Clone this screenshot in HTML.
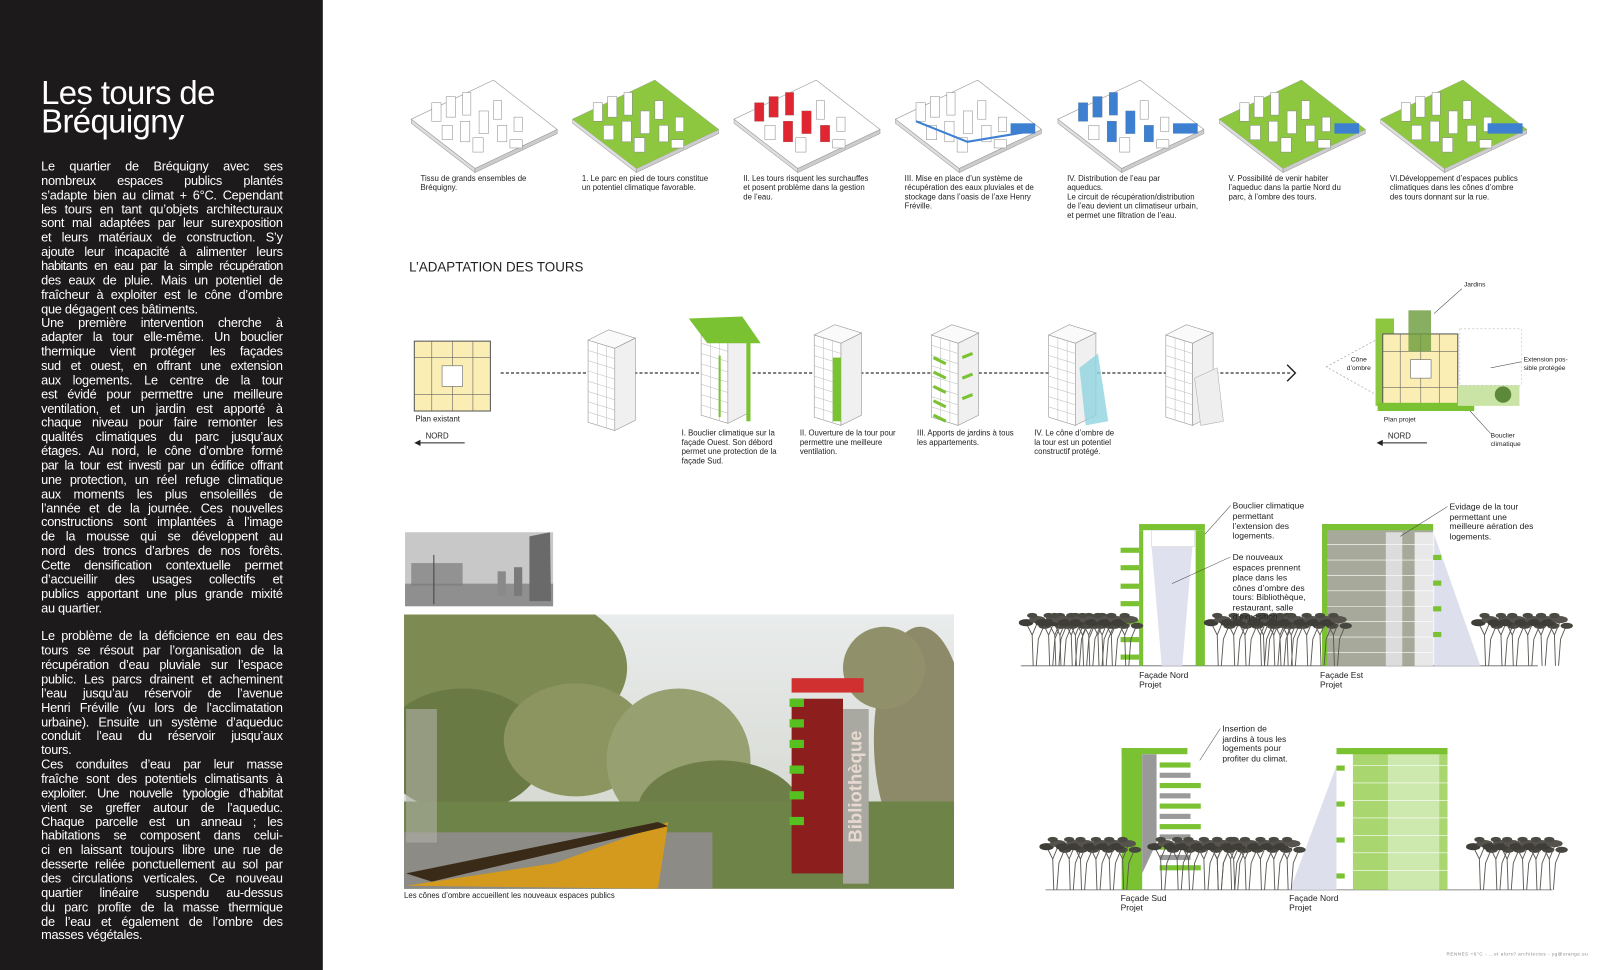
<!DOCTYPE html>
<html><head><meta charset="utf-8">
<style>
html,body{margin:0;padding:0;background:#fff;overflow:hidden}
#stage{position:absolute;left:0;top:0;width:1568px;height:944px;transform-origin:0 0;transform:scale(1.02806,1.02754);font-family:"Liberation Sans",Arial,sans-serif}
#side{position:absolute;left:0;top:0;width:314px;height:944px;background:#1c1a1b}
#title{position:absolute;left:40px;top:76px;color:#fff;font-size:32px;line-height:28px;letter-spacing:-0.6px}
#body{position:absolute;left:40px;top:156px;width:235px;color:#fff;font-size:12.4px;line-height:13.87px;letter-spacing:-0.25px}
#body div{text-align:justify;text-align-last:justify;white-space:nowrap;height:13.87px}
#body div.l{text-align-last:left}
svg{position:absolute;left:0;top:0}
.c{font-size:7.6px;fill:#222}
.s{font-size:8.3px;fill:#222}
</style></head><body>
<div id="stage">
<div id="side">
<div id="title">Les tours de<br>Bréquigny</div>
<div id="body">
<div>Le quartier de Bréquigny avec ses</div>
<div>nombreux espaces publics plantés</div>
<div>s’adapte bien au climat + 6°C. Cependant</div>
<div>les tours en tant qu’objets architecturaux</div>
<div>sont mal adaptées par leur surexposition</div>
<div>et leurs matériaux de construction. S’y</div>
<div>ajoute leur incapacité à alimenter leurs</div>
<div style="letter-spacing:-0.6px">habitants en eau par la simple récupération</div>
<div>des eaux de pluie. Mais un potentiel de</div>
<div>fraîcheur à exploiter est le cône d’ombre</div>
<div class="l">que dégagent ces bâtiments.</div>
<div>Une première intervention cherche à</div>
<div>adapter la tour elle-même. Un bouclier</div>
<div>thermique vient protéger les façades</div>
<div>sud et ouest, en offrant une extension</div>
<div>aux logements. Le centre de la tour</div>
<div>est évidé pour permettre une meilleure</div>
<div>ventilation, et un jardin est apporté à</div>
<div>chaque niveau pour faire remonter les</div>
<div>qualités climatiques du parc jusqu’aux</div>
<div>étages. Au nord, le cône d’ombre formé</div>
<div style="letter-spacing:-0.5px">par la tour est investi par un édifice offrant</div>
<div>une protection, un réel refuge climatique</div>
<div>aux moments les plus ensoleillés de</div>
<div>l’année et de la journée. Ces nouvelles</div>
<div>constructions sont implantées à l’image</div>
<div>de la mousse qui se développent au</div>
<div>nord des troncs d’arbres de nos forêts.</div>
<div>Cette densification contextuelle permet</div>
<div>d’accueillir des usages collectifs et</div>
<div>publics apportant une plus grande mixité</div>
<div class="l">au quartier.</div>
<div class="l"></div>
<div>Le problème de la déficience en eau des</div>
<div>tours se résout par l’organisation de la</div>
<div>récupération d’eau pluviale sur l’espace</div>
<div>public. Les parcs drainent et acheminent</div>
<div>l’eau jusqu’au réservoir de l’avenue</div>
<div>Henri Fréville (vu lors de l’acclimatation</div>
<div>urbaine). Ensuite un système d’aqueduc</div>
<div>conduit l’eau du réservoir jusqu’aux</div>
<div class="l">tours.</div>
<div>Ces conduites d’eau par leur masse</div>
<div>fraîche sont des potentiels climatisants à</div>
<div style="letter-spacing:-0.5px">exploiter. Une nouvelle typologie d’habitat</div>
<div>vient se greffer autour de l’aqueduc.</div>
<div>Chaque parcelle est un anneau ; les</div>
<div>habitations se composent dans celui-</div>
<div>ci en laissant toujours libre une rue de</div>
<div>desserte reliée ponctuellement au sol par</div>
<div>des circulations verticales. Ce nouveau</div>
<div>quartier linéaire suspendu au-dessus</div>
<div>du parc profite de la masse thermique</div>
<div>de l’eau et également de l’ombre des</div>
<div class="l">masses végétales.</div>
</div>
</div>

<svg width="1568" height="944" viewBox="0 0 1568 944">
<defs>
<clipPath id="rc"><rect x="393" y="598" width="535" height="267"/></clipPath>
<g id="slab">
<polygon points="0,38 80,0 142,48 62,86" fill="#fff" stroke="#999" stroke-width="0.6"/>
<polygon points="0,38 62,86 62,90 0,42" fill="#ddd" stroke="#999" stroke-width="0.5"/>
<polygon points="62,86 142,48 142,52 62,90" fill="#ccc" stroke="#999" stroke-width="0.5"/>
</g>
<g id="blds" fill="#fff" stroke="#888" stroke-width="0.5">
<rect x="20" y="22" width="9" height="18"/><rect x="34" y="16" width="9" height="20"/><rect x="50" y="12" width="8" height="22"/>
<rect x="30" y="44" width="10" height="14"/><rect x="48" y="40" width="9" height="20"/><rect x="66" y="30" width="9" height="22"/>
<rect x="80" y="20" width="8" height="18"/><rect x="60" y="56" width="10" height="14"/><rect x="84" y="44" width="9" height="16"/>
<rect x="100" y="36" width="8" height="14"/><rect x="96" y="58" width="12" height="8"/>
</g>
<g id="tree">
<g stroke="#5a5852" stroke-width="0.9" fill="none">
<path d="M0,0 L-1,-30 L-6,-40"/><path d="M-1,-30 L4,-42"/><path d="M3,0 L5,-26 L10,-38"/>
</g>
<ellipse cx="-7" cy="-42" rx="7" ry="3.5" fill="#3e3d38"/>
<ellipse cx="4" cy="-45" rx="8" ry="3.5" fill="#55534c"/>
<ellipse cx="11" cy="-39" rx="6" ry="3" fill="#47463f"/>
<ellipse cx="-1" cy="-49" rx="5" ry="2.5" fill="#4a4942"/>
</g>
<g id="trees">
<use href="#tree" x="0"/><use href="#tree" x="16"/><use href="#tree" x="27" transform="translate(0,0)"/><use href="#tree" x="42"/><use href="#tree" x="55"/><use href="#tree" x="68"/>
</g>
<g id="tower">
<polygon points="0,8 26,16 26,96 0,88" fill="#fff" stroke="#999" stroke-width="0.6"/>
<polygon points="26,16 46,6 46,86 26,96" fill="#f0f0f0" stroke="#999" stroke-width="0.6"/>
<polygon points="0,8 20,-2 46,6 26,16" fill="#fafafa" stroke="#999" stroke-width="0.6"/>
<g stroke="#bbb" stroke-width="0.5">
<line x1="0" y1="18" x2="26" y2="26"/><line x1="0" y1="28" x2="26" y2="36"/><line x1="0" y1="38" x2="26" y2="46"/><line x1="0" y1="48" x2="26" y2="56"/><line x1="0" y1="58" x2="26" y2="66"/><line x1="0" y1="68" x2="26" y2="76"/><line x1="0" y1="78" x2="26" y2="86"/>
<line x1="9" y1="11" x2="9" y2="91"/><line x1="18" y1="14" x2="18" y2="93"/>
</g>
</g>
<linearGradient id="sky" x1="0" y1="0" x2="0" y2="1"><stop offset="0" stop-color="#e9ecec"/><stop offset="1" stop-color="#cfd2c8"/></linearGradient>
</defs>

<!-- top iso row -->
<g transform="translate(400,78)"><use href="#slab"/><use href="#blds"/></g>
<g transform="translate(557,78)"><use href="#slab"/><polygon points="0,38 80,0 142,48 62,86" fill="#8dc63f"/><use href="#blds"/></g>
<g transform="translate(714,78)"><use href="#slab"/><use href="#blds"/>
<g fill="#e02630"><rect x="34" y="16" width="9" height="20"/><rect x="50" y="12" width="8" height="22"/><rect x="48" y="40" width="9" height="20"/><rect x="66" y="30" width="9" height="22"/><rect x="84" y="44" width="9" height="16"/><rect x="20" y="22" width="9" height="18"/></g></g>
<g transform="translate(871,78)"><use href="#slab"/><use href="#blds"/><polyline points="20,40 70,60 130,50" fill="none" stroke="#3d7fd0" stroke-width="2"/><rect x="112" y="42" width="24" height="10" fill="#3d7fd0"/></g>
<g transform="translate(1029,78)"><use href="#slab"/><use href="#blds"/>
<g fill="#3d7fd0"><rect x="34" y="16" width="9" height="20"/><rect x="50" y="12" width="8" height="22"/><rect x="48" y="40" width="9" height="20"/><rect x="66" y="30" width="9" height="22"/><rect x="84" y="44" width="9" height="16"/><rect x="20" y="22" width="9" height="18"/><rect x="112" y="42" width="24" height="10"/></g></g>
<g transform="translate(1186,78)"><use href="#slab"/><polygon points="0,38 80,0 142,48 62,86" fill="#8dc63f"/><use href="#blds"/><rect x="112" y="42" width="24" height="10" fill="#3d7fd0"/></g>
<g transform="translate(1343,78)"><use href="#slab"/><polygon points="0,38 80,0 142,48 62,86" fill="#8dc63f"/><use href="#blds"/><rect x="104" y="42" width="34" height="10" fill="#3d7fd0"/></g>

<g class="c">
<text x="409" y="176">Tissu de grands ensembles de</text><text x="409" y="185">Bréquigny.</text>
<text x="566" y="176">1. Le parc en pied de tours constitue</text><text x="566" y="185">un potentiel climatique favorable.</text>
<text x="723" y="176">II. Les tours risquent les surchauffes</text><text x="723" y="185">et posent problème dans la gestion</text><text x="723" y="194">de l’eau.</text>
<text x="880" y="176">III. Mise en place d’un système de</text><text x="880" y="185">récupération des eaux pluviales et de</text><text x="880" y="194">stockage dans l’oasis de l’axe Henry</text><text x="880" y="203">Fréville.</text>
<text x="1038" y="176">IV.  Distribution  de  l’eau  par</text><text x="1038" y="185">aqueducs.</text><text x="1038" y="194">Le circuit de récupération/distribution</text><text x="1038" y="203">de l’eau devient un climatiseur urbain,</text><text x="1038" y="212">et permet une filtration de l’eau.</text>
<text x="1195" y="176">V.  Possibilité  de  venir  habiter</text><text x="1195" y="185">l’aqueduc dans la partie Nord du</text><text x="1195" y="194">parc, à l’ombre des tours.</text>
<text x="1352" y="176">VI.Développement d’espaces publics</text><text x="1352" y="185">climatiques dans les cônes d’ombre</text><text x="1352" y="194">des tours donnant sur la rue.</text>
</g>

<text x="398" y="264" font-size="13" fill="#222">L’ADAPTATION DES  TOURS</text>

<!-- row 2 -->
<line x1="487" y1="363" x2="1255" y2="363" stroke="#333" stroke-width="1.2" stroke-dasharray="3,2"/>
<polyline points="1252,355 1260,363 1252,371" fill="none" stroke="#222" stroke-width="1.4"/>
<g>
<rect x="403" y="332" width="74" height="68" fill="#fbeeb5" stroke="#555" stroke-width="1"/>
<g stroke="#666" stroke-width="0.6" fill="none">
<line x1="403" y1="348" x2="477" y2="348"/><line x1="403" y1="384" x2="477" y2="384"/>
<line x1="420" y1="332" x2="420" y2="400"/><line x1="440" y1="332" x2="440" y2="400"/><line x1="460" y1="332" x2="460" y2="400"/>
<rect x="430" y="356" width="20" height="20" fill="#fff"/>
</g>
</g>
<text x="404" y="410" class="c">Plan existant</text>
<line x1="405" y1="431" x2="452" y2="431" stroke="#222" stroke-width="1"/><polygon points="403,431 409,428 409,434" fill="#222"/>
<text x="414" y="427" class="c">NORD</text>

<g transform="translate(572,323)"><use href="#tower"/></g>
<g transform="translate(682,316)"><use href="#tower"/><polygon points="-12,-6 40,-8 58,18 6,18" fill="#7ac231"/><rect x="44" y="14" width="4" height="80" fill="#7ac231"/><g stroke="#7ac231" stroke-width="2"><line x1="18" y1="30" x2="18" y2="90"/></g></g>
<g transform="translate(792,318)"><use href="#tower"/><rect x="18" y="30" width="8" height="62" fill="#7ac231"/></g>
<g transform="translate(906,318)"><use href="#tower"/><g stroke="#7ac231" stroke-width="3"><line x1="2" y1="30" x2="14" y2="36"/><line x1="2" y1="44" x2="14" y2="50"/><line x1="2" y1="58" x2="14" y2="64"/><line x1="2" y1="72" x2="14" y2="78"/><line x1="2" y1="86" x2="14" y2="92"/><line x1="30" y1="30" x2="40" y2="26"/><line x1="30" y1="50" x2="40" y2="46"/><line x1="30" y1="70" x2="40" y2="66"/></g></g>
<g transform="translate(1020,318)"><use href="#tower"/><polygon points="30,40 48,26 58,92 36,96" fill="#8fd3e0" opacity="0.8"/></g>
<g transform="translate(1134,318)"><use href="#tower"/><polygon points="28,50 50,40 56,92 34,96" fill="#eee" stroke="#aaa" stroke-width="0.5"/></g>

<g class="c">
<text x="663" y="424">I. Bouclier climatique sur la</text><text x="663" y="433">façade Ouest. Son débord</text><text x="663" y="442">permet une protection de la</text><text x="663" y="451">façade Sud.</text>
<text x="778" y="424">II. Ouverture de la tour pour</text><text x="778" y="433">permettre une meilleure</text><text x="778" y="442">ventilation.</text>
<text x="892" y="424">III. Apports de jardins à tous</text><text x="892" y="433">les appartements.</text>
<text x="1006" y="424">IV. Le cône d’ombre de</text><text x="1006" y="433">la tour est un potentiel</text><text x="1006" y="442">constructif protégé.</text>
</g>

<g>
<polygon points="1290,357 1340,330 1340,385" fill="#fff" stroke="#999" stroke-width="0.6" stroke-dasharray="2,2"/>
<rect x="1338" y="310" width="18" height="85" fill="#8dc63f"/>
<rect x="1345" y="325" width="73" height="68" fill="#fbeeb5" stroke="#555" stroke-width="1"/>
<g stroke="#666" stroke-width="0.6" fill="none"><line x1="1345" y1="342" x2="1418" y2="342"/><line x1="1345" y1="377" x2="1418" y2="377"/><line x1="1362" y1="325" x2="1362" y2="393"/><line x1="1382" y1="325" x2="1382" y2="393"/><line x1="1400" y1="325" x2="1400" y2="393"/><rect x="1372" y="350" width="20" height="18" fill="#fff"/></g>
<rect x="1370" y="302" width="22" height="40" fill="#6a9b3a" opacity="0.8"/>
<rect x="1340" y="392" width="94" height="8" fill="#7ac231"/>
<rect x="1418" y="375" width="60" height="20" fill="#c9e4a4"/>
<circle cx="1462" cy="384" r="8" fill="#5d8a3a"/>
<rect x="1420" y="320" width="60" height="55" fill="none" stroke="#bbb" stroke-width="0.5" stroke-dasharray="2,2"/>
</g>
<g class="c">
<text x="1424" y="279" style="font-size:6.5px">Jardins</text>
<text x="1314" y="352" style="font-size:6.5px">Cône</text><text x="1310" y="360" style="font-size:6.5px">d’ombre</text>
<text x="1482" y="352" style="font-size:6.5px">Extension pos-</text><text x="1482" y="360" style="font-size:6.5px">sible protégée</text>
<text x="1450" y="426" style="font-size:6.5px">Bouclier</text><text x="1450" y="434" style="font-size:6.5px">climatique</text>
<text x="1346" y="410" style="font-size:6.5px">Plan projet</text>
</g>
<g stroke="#333" stroke-width="0.5"><line x1="1422" y1="281" x2="1395" y2="305"/><line x1="1480" y1="352" x2="1450" y2="358"/><line x1="1450" y1="422" x2="1430" y2="400"/></g>
<line x1="1341" y1="431" x2="1388" y2="431" stroke="#222" stroke-width="1"/><polygon points="1339,431 1345,428 1345,434" fill="#222"/>
<text x="1350" y="427" class="c">NORD</text>

<!-- small photo -->
<rect x="394" y="518" width="144" height="72" fill="#c8c8c8"/>
<rect x="394" y="568" width="144" height="22" fill="#8f8f8f"/>
<rect x="400" y="548" width="50" height="22" fill="#7a7a7a" opacity="0.7"/>
<polygon points="515,522 535,518 536,585 515,585" fill="#6a6a6a"/>
<rect x="484" y="556" width="8" height="24" fill="#8a8a8a"/><rect x="500" y="552" width="8" height="28" fill="#7a7a7a"/>
<line x1="422" y1="540" x2="422" y2="588" stroke="#444"/>

<!-- big render -->
<g clip-path="url(#rc)">
<rect x="393" y="598" width="535" height="267" fill="url(#sky)"/>
<ellipse cx="480" cy="650" rx="130" ry="80" fill="#7d8a52"/>
<ellipse cx="450" cy="730" rx="80" ry="60" fill="#6a7a45"/>
<ellipse cx="560" cy="720" rx="70" ry="55" fill="#8c9560"/>
<ellipse cx="660" cy="740" rx="70" ry="70" fill="#97a070"/>
<ellipse cx="700" cy="790" rx="80" ry="50" fill="#6e7e48"/>
<ellipse cx="895" cy="720" rx="45" ry="110" fill="#8c8a68"/>
<ellipse cx="860" cy="650" rx="40" ry="40" fill="#90906a"/>
<rect x="393" y="780" width="535" height="85" fill="#6e8348"/>
<rect x="393" y="810" width="300" height="55" fill="#8c8b86"/>
<polygon points="395,862 540,840 650,800 640,865" fill="#d39a1e"/>
<polygon points="395,850 640,800 650,804 420,858" fill="#3a2a18"/>
<rect x="770" y="680" width="50" height="170" fill="#8c1e1e"/>
<rect x="770" y="660" width="70" height="14" fill="#d0302f"/>
<rect x="820" y="690" width="25" height="170" fill="#a9a9a2"/>
<g fill="#55c020"><rect x="768" y="680" width="14" height="8"/><rect x="768" y="700" width="14" height="8"/><rect x="768" y="720" width="14" height="8"/><rect x="768" y="745" width="14" height="8"/><rect x="768" y="770" width="14" height="8"/><rect x="768" y="795" width="14" height="8"/></g>
<text transform="translate(838,820) rotate(-90)" font-size="18" fill="#e8d9d0" font-weight="bold">Bibliothèque</text>
<rect x="395" y="690" width="30" height="130" fill="#b0b0a8" opacity="0.6"/>
</g>
<text x="393" y="874" class="c">Les cônes d’ombre accueillent les nouveaux espaces publics</text>

<!-- elevation top -->
<line x1="993" y1="648" x2="1496" y2="648" stroke="#666" stroke-width="0.8"/>
<polygon points="1120,530 1160,530 1150,648 1130,648" fill="#dfe1ee"/>
<rect x="1108" y="510" width="64" height="6" fill="#7ac231"/>
<rect x="1120" y="516" width="42" height="16" fill="#fff" stroke="#ccc" stroke-width="0.5"/>
<rect x="1163" y="516" width="9" height="132" fill="#7ac231"/>
<g fill="#7ac231"><rect x="1090" y="533" width="18" height="5"/><rect x="1090" y="550" width="18" height="5"/><rect x="1090" y="568" width="18" height="5"/><rect x="1090" y="585" width="18" height="5"/><rect x="1090" y="603" width="18" height="5"/><rect x="1090" y="620" width="18" height="5"/><rect x="1090" y="637" width="18" height="5"/></g>
<rect x="1108" y="516" width="4" height="132" fill="#7ac231"/>
<polygon points="1395,520 1440,648 1395,648" fill="#dde0ec"/>
<rect x="1286" y="510" width="108" height="138" fill="#a7aa9a"/>
<rect x="1286" y="510" width="108" height="6" fill="#7ac231"/>
<rect x="1348" y="518" width="16" height="130" fill="#dcdcdc"/>
<rect x="1376" y="518" width="18" height="130" fill="#e8e8e8"/>
<rect x="1286" y="516" width="5" height="132" fill="#7ac231"/>
<g stroke="#fff" stroke-width="0.6"><line x1="1291" y1="530" x2="1394" y2="530"/><line x1="1291" y1="545" x2="1394" y2="545"/><line x1="1291" y1="560" x2="1394" y2="560"/><line x1="1291" y1="575" x2="1394" y2="575"/><line x1="1291" y1="590" x2="1394" y2="590"/><line x1="1291" y1="605" x2="1394" y2="605"/><line x1="1291" y1="620" x2="1394" y2="620"/><line x1="1291" y1="635" x2="1394" y2="635"/></g>
<g fill="#7ac231"><rect x="1394" y="540" width="8" height="5"/><rect x="1394" y="565" width="8" height="5"/><rect x="1394" y="590" width="8" height="5"/><rect x="1394" y="615" width="8" height="5"/></g>
<g transform="translate(1005,648)"><use href="#trees"/><use href="#trees" x="22"/></g>
<g transform="translate(1185,648)"><use href="#trees"/><use href="#trees" x="45"/></g>
<g transform="translate(1445,648)"><use href="#trees"/></g>
<g class="s">
<text x="1108" y="660">Façade Nord</text><text x="1108" y="669">Projet</text>
<text x="1284" y="660">Façade Est</text><text x="1284" y="669">Projet</text>
<text x="1199" y="495">Bouclier climatique</text><text x="1199" y="505">permettant</text><text x="1199" y="515">l’extension des</text><text x="1199" y="524">logements.</text>
<text x="1199" y="545">De nouveaux</text><text x="1199" y="555">espaces prennent</text><text x="1199" y="565">place dans les</text><text x="1199" y="575">cônes d’ombre des</text><text x="1199" y="584">tours: Bibliothèque,</text><text x="1199" y="594">restaurant, salle</text><text x="1199" y="603">d’exposition...</text>
<text x="1410" y="496">Evidage de la tour</text><text x="1410" y="506">permettant une</text><text x="1410" y="515">meilleure aération des</text><text x="1410" y="525">logements.</text>
</g>
<g stroke="#444" stroke-width="0.5"><line x1="1197" y1="492" x2="1172" y2="520"/><line x1="1197" y1="542" x2="1140" y2="568"/><line x1="1408" y1="493" x2="1362" y2="522"/></g>

<!-- elevation bottom -->
<line x1="1017" y1="866" x2="1510" y2="866" stroke="#666" stroke-width="0.8"/>
<rect x="1091" y="728" width="20" height="138" fill="#7ac231"/>
<rect x="1091" y="728" width="64" height="6" fill="#7ac231"/>
<polygon points="1111,734 1125,734 1125,820 1111,850" fill="#999"/>
<g fill="#7ac231"><rect x="1128" y="742" width="30" height="5"/><rect x="1128" y="762" width="40" height="5"/><rect x="1128" y="782" width="40" height="5"/><rect x="1128" y="802" width="40" height="5"/><rect x="1128" y="822" width="40" height="5"/><rect x="1128" y="842" width="40" height="5"/></g>
<g fill="#9a9a9a"><rect x="1128" y="752" width="30" height="5"/><rect x="1128" y="772" width="30" height="5"/><rect x="1128" y="792" width="30" height="5"/><rect x="1128" y="812" width="30" height="5"/><rect x="1128" y="832" width="30" height="5"/></g>
<polygon points="1300,745 1255,866 1300,866" fill="#dde0ec"/>
<rect x="1316" y="728" width="92" height="138" fill="#a9d66e"/>
<rect x="1350" y="734" width="50" height="132" fill="#cde9ad"/>
<rect x="1300" y="728" width="108" height="6" fill="#7ac231"/>
<g stroke="#fff" stroke-width="0.6"><line x1="1316" y1="745" x2="1408" y2="745"/><line x1="1316" y1="762" x2="1408" y2="762"/><line x1="1316" y1="779" x2="1408" y2="779"/><line x1="1316" y1="796" x2="1408" y2="796"/><line x1="1316" y1="813" x2="1408" y2="813"/><line x1="1316" y1="830" x2="1408" y2="830"/><line x1="1316" y1="847" x2="1408" y2="847"/></g>
<g fill="#7ac231"><rect x="1300" y="745" width="8" height="5"/><rect x="1300" y="780" width="8" height="5"/><rect x="1300" y="815" width="8" height="5"/><rect x="1300" y="850" width="8" height="5"/></g>
<g transform="translate(1025,866)"><use href="#trees"/></g>
<g transform="translate(1130,866)"><use href="#trees"/><use href="#trees" x="55"/></g>
<g transform="translate(1440,866)"><use href="#trees"/></g>
<g class="s">
<text x="1090" y="877">Façade Sud</text><text x="1090" y="886">Projet</text>
<text x="1254" y="877">Façade Nord</text><text x="1254" y="886">Projet</text>
<text x="1189" y="712">Insertion de</text><text x="1189" y="722">jardins à tous les</text><text x="1189" y="731">logements pour</text><text x="1189" y="741">profiter du climat.</text>
</g>
<line x1="1187" y1="709" x2="1167" y2="740" stroke="#444" stroke-width="0.5"/>

<text x="1407" y="930" font-size="4.5" fill="#888" letter-spacing="0.5">RENNES +6°C - ...et alors? architectes - yg@orange.eu</text>
</svg>
</div>
</body></html>
